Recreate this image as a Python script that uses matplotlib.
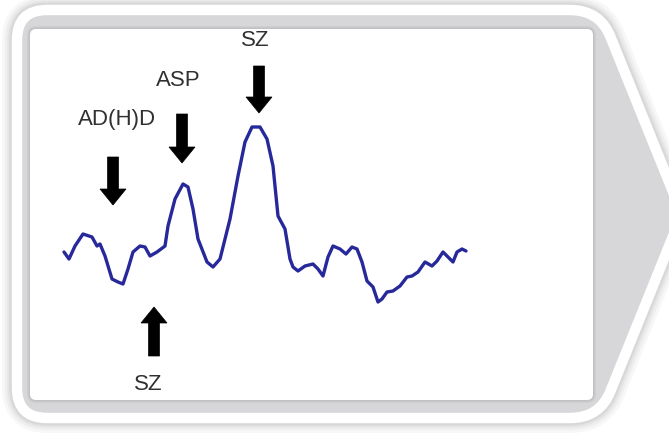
import matplotlib; matplotlib.use("Agg")
import matplotlib.pyplot as plt
from matplotlib.path import Path
from matplotlib.patches import PathPatch, FancyBboxPatch, FancyArrow

plt.rcParams["font.family"] = ["Liberation Sans", "DejaVu Sans"]

# ---- data (signal trace; x = sample position, y = deflection, screen units) ----
sig_x = [64, 69, 75, 83, 92, 97, 100, 105, 112, 118, 123, 128, 133, 140, 145, 150, 157, 165,
         168, 175, 183, 188, 193, 198, 207, 213, 220, 230, 238, 245, 252, 260, 267, 273, 278,
         285, 290, 293, 298, 305, 313, 318, 323, 328, 333, 340, 346, 352, 357, 362, 367, 373,
         378, 382, 387, 393, 400, 407, 412, 418, 425, 432, 437, 443, 448, 453, 457, 462, 466]
sig_y = [253, 260, 247, 235, 238, 247, 245, 257, 280, 283, 285, 270, 253, 247, 248, 257, 253, 247,
         227, 200, 185, 188, 210, 240, 263, 268, 260, 220, 177, 143, 128, 128, 140, 167, 217,
         230, 260, 268, 272, 267, 265, 270, 277, 258, 247, 250, 255, 248, 250, 263, 282, 288,
         303, 300, 293, 292, 287, 278, 277, 273, 263, 267, 262, 253, 258, 263, 253, 250, 252]

labels  = ["AD(H)D", "ASP", "SZ", "SZ"]
label_x = [117, 178, 255, 148]
label_y = [120, 80, 41, 385]
arrow_x    = [113, 182, 259, 154]
arrow_tail = [158, 115, 67, 357]
arrow_tip  = [206, 164, 114, 308]

NAVY = "#27289a"; TXT = "#303030"; BAND = "#d7d7d9"

fig = plt.figure(figsize=(6.69, 4.35), dpi=100)
ax = fig.add_axes([0, 0, 1, 1])
ax.set_xlim(0, 669); ax.set_ylim(435, 0); ax.axis("off")

# outer frame: rounded box with a chevron on the right
def frame_path(l, t, r, b, tipx, rad):
    my = (t + b) / 2
    verts = [(l + rad, t), (r - rad, t), (r, t), (r + rad * 0.35, t + rad * 0.9),
             (tipx, my), (r + rad * 0.35, b - rad * 0.9), (r, b), (r - rad, b),
             (l + rad, b), (l, b), (l, b - rad), (l, t + rad), (l, t), (l + rad, t), (l + rad, t)]
    codes = [Path.MOVETO, Path.LINETO, Path.CURVE3, Path.CURVE3,
             Path.LINETO, Path.LINETO, Path.CURVE3, Path.CURVE3,
             Path.LINETO, Path.CURVE3, Path.CURVE3, Path.LINETO, Path.CURVE3, Path.CURVE3,
             Path.CLOSEPOLY]
    return Path(verts, codes)

fp = frame_path(17, 11, 600, 419, 682, 30)
for lw, a in [(30, .03), (24, .035), (19, .04), (15, .05)]:
    ax.add_patch(PathPatch(fp, fc="none", ec="black", lw=lw * .72, alpha=a, zorder=1))
ax.add_patch(PathPatch(fp, fc=BAND, ec="white", lw=7.5, zorder=2))

# inner white panel with soft edge
for lw, a in [(6, .04), (3, .06)]:
    ax.add_patch(FancyBboxPatch((30, 30), 563, 371, boxstyle="round,pad=0,rounding_size=6",
                                fc="none", ec="black", lw=lw * .72, alpha=a, zorder=3))
ax.add_patch(FancyBboxPatch((30, 30), 563, 371, boxstyle="round,pad=0,rounding_size=6",
                            fc="white", ec="none", zorder=4))

ax.plot(sig_x, sig_y, color=NAVY, lw=2.4, solid_joinstyle="round", solid_capstyle="round", zorder=5)

for x, y0, y1 in zip(arrow_x, arrow_tail, arrow_tip):
    ax.add_patch(FancyArrow(x, y0, 0, y1 - y0, width=11, head_width=26, head_length=16,
                            length_includes_head=True, fc="black", ec="black", lw=0.5, zorder=6))
for s, x, y in zip(labels, label_x, label_y):
    ax.text(x, y, s, ha="center", va="center", fontsize=16, color=TXT, zorder=6)

fig.savefig("out.png", dpi=100)
